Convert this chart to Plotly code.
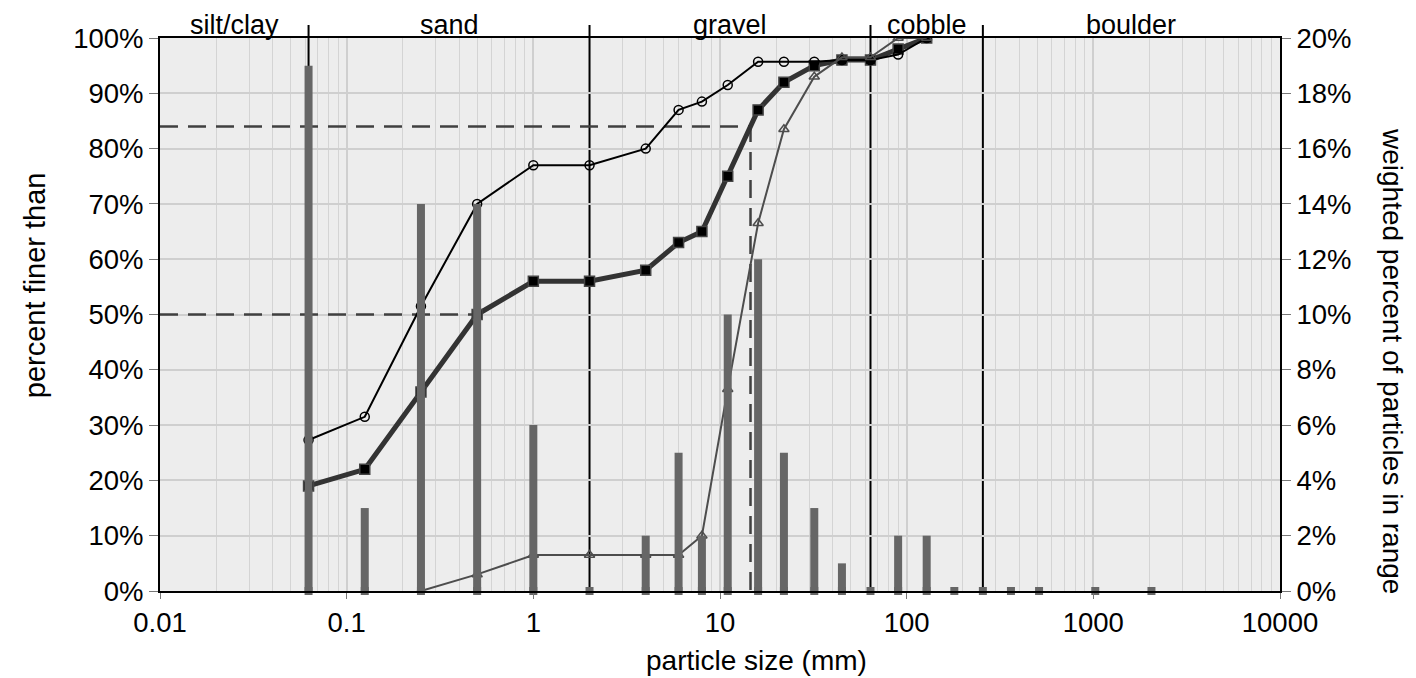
import numpy as np
import plotly.graph_objects as go

# particle size classes (mm) and sample data
sizes = [0.0625, 0.125, 0.25, 0.5, 1, 2, 4, 6, 8, 11, 16, 22, 32, 45, 64, 90, 128]
bin_sizes = sizes + [180, 256, 362, 512, 1024, 2048]
weighted_pct = [19, 3, 14, 14, 6, 0, 2, 5, 2, 10, 12, 5, 3, 1, 0, 2, 2, 0, 0, 0, 0, 0, 0]

finer_weighted = [19, 22, 36, 50, 56, 56, 58, 63, 65, 75, 87, 92, 95, 96, 96, 98, 100]
finer_count = [27.3, 31.5, 51.5, 70, 77, 77, 80, 87, 88.5, 91.5, 95.7, 95.7, 95.7, 96, 96, 97, 100]

tri_sizes = [0.25, 0.5, 1, 2, 4, 6, 8, 11, 16, 22, 32, 45, 64, 90, 128]
finer_other = [0, 3, 6.5, 6.5, 6.5, 6.5, 10, 36.5, 66.5, 83.5, 93, 96.5, 96.5, 100, 100]

class_names = ["silt/clay", "sand", "gravel", "cobble", "boulder"]
class_edges = [0.01, 0.0625, 2, 64, 256, 10000]

x_ticks = [0.01, 0.1, 1, 10, 100, 1000, 10000]
x_ticktext = ["0.01", "0.1", "1", "10", "100", "1000", "10000"]

FONT = "Liberation Sans, Arial, sans-serif"

# D50 / D84 from the weighted curve (log interpolation)
log_sizes = np.log10(sizes)
d50 = 10 ** np.interp(50, finer_weighted, log_sizes)
d84 = 10 ** np.interp(84, finer_weighted, log_sizes)

fig = go.Figure()

# dashed D50 / D84 guides
fig.add_trace(go.Scatter(x=[0.01, d50], y=[50, 50], mode="lines",
                         line=dict(color="#404040", width=2.5, dash="18px,10px")))
fig.add_trace(go.Scatter(x=[0.01, d84, d84], y=[84, 84, 0], mode="lines",
                         line=dict(color="#404040", width=2.5, dash="18px,10px")))

fig.add_trace(go.Scatter(x=sizes, y=finer_weighted, mode="lines+markers",
                         line=dict(color="#333333", width=5),
                         marker=dict(symbol="square", size=10, color="black",
                                     line=dict(color="#444444", width=1.5))))
fig.add_trace(go.Scatter(x=sizes, y=finer_count, mode="lines+markers",
                         line=dict(color="black", width=2),
                         marker=dict(symbol="circle-open", size=9, color="black",
                                     line=dict(width=1.5))))
fig.add_trace(go.Scatter(x=tri_sizes, y=finer_other, mode="lines+markers",
                         line=dict(color="#4d4d4d", width=2),
                         marker=dict(symbol="triangle-up-open", size=9, color="#4d4d4d",
                                     line=dict(width=1.5))))

# weighted percent in range, drawn as thin bars on the right axis
bar_x, bar_y = [], []
for s, v in zip(bin_sizes, weighted_pct):
    bar_x += [s, s, None]
    bar_y += [0, v, None]
fig.add_trace(go.Scatter(x=bar_x, y=bar_y, mode="lines", yaxis="y2",
                         line=dict(color="#666666", width=8), cliponaxis=False))
fig.add_trace(go.Scatter(x=bin_sizes, y=[0] * len(bin_sizes), mode="markers", yaxis="y2",
                         marker=dict(symbol="square", size=8, color="#666666"),
                         cliponaxis=False))

# class boundaries and names
shapes = []
for b in class_edges[1:-1]:
    shapes.append(dict(type="line", xref="x", yref="paper", x0=b, x1=b, y0=0, y1=1,
                       line=dict(color="black", width=2), layer="between"))
    shapes.append(dict(type="line", xref="x", yref="paper", x0=b, x1=b, y0=1, y1=1.0235,
                       line=dict(color="black", width=2), layer="above"))

annotations = []
for i, name in enumerate(class_names):
    cx = (np.log10(class_edges[i]) + np.log10(class_edges[i + 1])) / 2
    annotations.append(dict(x=cx, y=1.024, xref="x", yref="paper", text=name,
                            showarrow=False, yanchor="middle", xanchor="center",
                            font=dict(size=27, color="black", family=FONT)))

annotations.append(dict(x=-0.1116, y=0.553, xref="paper", yref="paper", text="percent finer than",
                        textangle=-90, showarrow=False, xanchor="center", yanchor="middle",
                        font=dict(size=29, color="black", family=FONT)))
annotations.append(dict(x=1.1, y=0.416, xref="paper", yref="paper",
                        text="weighted percent of particles in range",
                        textangle=90, showarrow=False, xanchor="center", yanchor="middle",
                        font=dict(size=28, color="black", family=FONT)))
annotations.append(dict(x=0.533, y=-0.125, xref="paper", yref="paper", text="particle size (mm)",
                        showarrow=False, xanchor="center", yanchor="middle",
                        font=dict(size=28, color="black", family=FONT)))

# minor grid at 2..9 per decade, skipping spots covered by a class boundary
minor_vals = [k * 10.0 ** e for e in range(-2, 4) for k in range(2, 10)]
minor_vals = [v for v in minor_vals if min(abs(np.log10(v / b)) for b in class_edges) > 1e-6]

# page body adds an 8px margin, so the figure is 8px smaller than the window
fig.update_layout(
    width=1408, height=670,
    margin=dict(l=152, r=136, t=30, b=87),
    paper_bgcolor="white", plot_bgcolor="#ededed",
    showlegend=False,
    font=dict(family=FONT, size=27.5, color="black"),
    shapes=shapes, annotations=annotations,
    xaxis=dict(type="log", range=[-2, 4], tickvals=x_ticks, ticktext=x_ticktext,
               showline=True, linecolor="black", linewidth=2, mirror=True,
               ticks="outside", ticklen=6, tickcolor="#777777",
               showgrid=True, gridcolor="#cfcfcf", gridwidth=1.5, zeroline=False,
               minor=dict(tickvals=minor_vals, showgrid=True, gridcolor="#d4d4d4", gridwidth=1)),
    yaxis=dict(range=[0, 100], dtick=10, ticksuffix="%",
               showline=True, linecolor="black", linewidth=2, mirror=True,
               ticks="outside", ticklen=9, tickcolor="#777777",
               showgrid=True, gridcolor="#cfcfcf", gridwidth=1.5, zeroline=False),
    yaxis2=dict(range=[0, 20], dtick=2, ticksuffix="%", overlaying="y", side="right",
                showline=True, linecolor="black", linewidth=2,
                ticks="outside", ticklen=9, tickcolor="#777777",
                showgrid=False, zeroline=False),
)

fig.write_html("out.html")
